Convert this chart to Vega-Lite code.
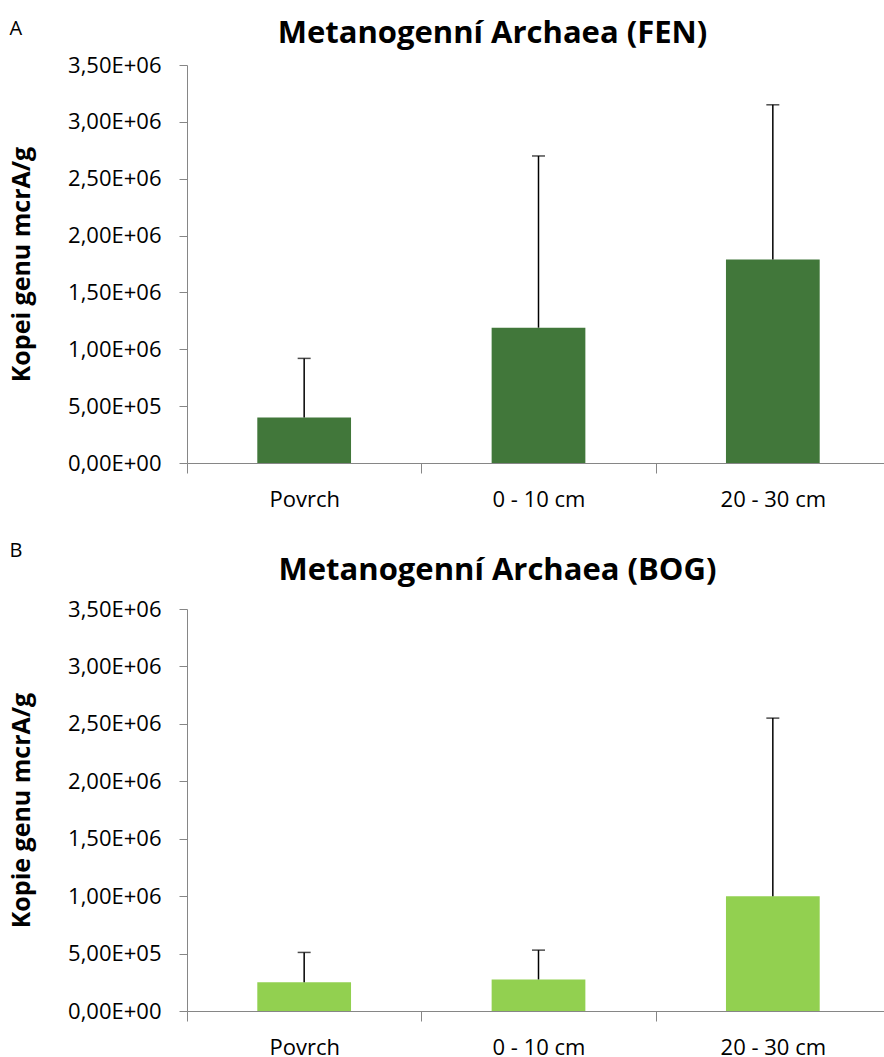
{
  "$schema": "https://vega.github.io/schema/vega-lite/v6.json",
  "background": "white",
  "padding": {"left": 9, "top": 18, "right": 0, "bottom": 0},
  "spacing": 31,
  "config": {
    "view": {"stroke": null},
    "font": "Open Sans",
    "axis": {
      "grid": false,
      "domainColor": "#868686",
      "tickColor": "#868686",
      "labelColor": "#000000",
      "titleColor": "#000000",
      "labelFont": "Open Sans",
      "titleFont": "Open Sans"
    },
    "title": {"color": "#000000", "font": "Open Sans"}
  },
  "datasets": {
    "fen": [
      {"depth": "Povrch", "copies": 400000, "upper": 920000},
      {"depth": "0 - 10 cm", "copies": 1190000, "upper": 2700000},
      {"depth": "20 - 30 cm", "copies": 1790000, "upper": 3150000}
    ],
    "bog": [
      {"depth": "Povrch", "copies": 250000, "upper": 510000},
      {"depth": "0 - 10 cm", "copies": 275000, "upper": 530000},
      {"depth": "20 - 30 cm", "copies": 1000000, "upper": 2550000}
    ]
  },
  "vconcat": [
    {
      "title": {"text": "A", "anchor": "start", "frame": "bounds", "fontSize": 20, "fontWeight": "normal", "dy": 25},
      "vconcat": [
        {
          "width": 703,
          "height": 398,
          "title": {"text": "Metanogenní Archaea (FEN)", "fontSize": 31, "fontWeight": "bold", "anchor": "middle", "frame": "group", "dx": -46, "offset": 4},
          "data": {"name": "fen"},
          "encoding": {
            "x": {
              "field": "depth", "type": "nominal", "sort": null,
              "scale": {"paddingInner": 0, "paddingOuter": 0},
              "axis": {"title": null, "labelAngle": 0, "tickBand": "extent", "tickSize": 10, "labelFontSize": 22, "labelPadding": 16}
            }
          },
          "layer": [
            {
              "mark": {"type": "bar", "color": "#41773A", "width": {"band": 0.4}},
              "encoding": {
                "y": {
                  "field": "copies", "type": "quantitative", "title": "Kopei genu mcrA/g",
                  "scale": {"domain": [0, 3500000], "nice": false},
                  "axis": {
                    "values": [0, 500000, 1000000, 1500000, 2000000, 2500000, 3000000, 3500000],
                    "labelExpr": "replace(replace(format(datum.value, '.2e'), '.', ','), 'e+', 'E+0')",
                    "labelFontSize": 22, "tickSize": 8, "labelPadding": 18,
                    "titleFontSize": 25, "titleFontWeight": "bold", "titlePadding": 33
                  }
                }
              }
            },
            {
              "mark": {"type": "rule", "color": "#000000", "strokeWidth": 1.5},
              "encoding": {
                "y": {"field": "copies", "type": "quantitative", "title": "Kopei genu mcrA/g"},
                "y2": {"field": "upper"}
              }
            },
            {
              "mark": {"type": "tick", "color": "#000000", "thickness": 1.5, "size": 13},
              "encoding": {
                "y": {"field": "upper", "type": "quantitative", "title": "Kopei genu mcrA/g"}
              }
            }
          ]
        }
      ]
    },
    {
      "title": {"text": "B", "anchor": "start", "frame": "bounds", "fontSize": 20, "fontWeight": "normal", "dy": 10},
      "vconcat": [
        {
          "width": 703,
          "height": 402,
          "title": {"text": "Metanogenní Archaea (BOG)", "fontSize": 31, "fontWeight": "bold", "anchor": "middle", "frame": "group", "dx": -41, "offset": 11},
          "data": {"name": "bog"},
          "encoding": {
            "x": {
              "field": "depth", "type": "nominal", "sort": null,
              "scale": {"paddingInner": 0, "paddingOuter": 0},
              "axis": {"title": null, "labelAngle": 0, "tickBand": "extent", "tickSize": 10, "labelFontSize": 22, "labelPadding": 16}
            }
          },
          "layer": [
            {
              "mark": {"type": "bar", "color": "#92D050", "width": {"band": 0.4}},
              "encoding": {
                "y": {
                  "field": "copies", "type": "quantitative", "title": "Kopie genu mcrA/g",
                  "scale": {"domain": [0, 3500000], "nice": false},
                  "axis": {
                    "values": [0, 500000, 1000000, 1500000, 2000000, 2500000, 3000000, 3500000],
                    "labelExpr": "replace(replace(format(datum.value, '.2e'), '.', ','), 'e+', 'E+0')",
                    "labelFontSize": 22, "tickSize": 8, "labelPadding": 18,
                    "titleFontSize": 25, "titleFontWeight": "bold", "titlePadding": 33
                  }
                }
              }
            },
            {
              "mark": {"type": "rule", "color": "#000000", "strokeWidth": 1.5},
              "encoding": {
                "y": {"field": "copies", "type": "quantitative", "title": "Kopie genu mcrA/g"},
                "y2": {"field": "upper"}
              }
            },
            {
              "mark": {"type": "tick", "color": "#000000", "thickness": 1.5, "size": 13},
              "encoding": {
                "y": {"field": "upper", "type": "quantitative", "title": "Kopie genu mcrA/g"}
              }
            }
          ]
        }
      ]
    }
  ]
}
